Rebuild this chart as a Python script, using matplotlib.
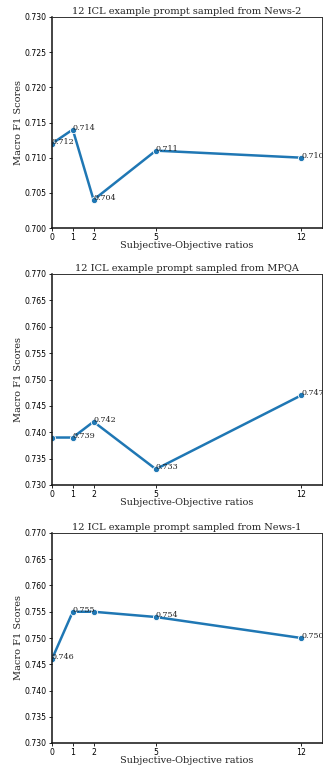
import numpy as np
from matplotlib import pyplot as plt

ratios = [0, 1, 2, 5, 12]
xtick_labels = ['0', '1', '2', '5', '12']

news2 = [0.712, 0.714, 0.704, 0.711, 0.710]
mpqa = [0.739, 0.739, 0.742, 0.733, 0.747]
news1 = [0.746, 0.755, 0.755, 0.754, 0.750]

# which points carry a value label (duplicates are labelled once)
news2_lab = [True, True, True, True, True]
mpqa_lab = [False, True, True, True, True]
news1_lab = [True, True, False, True, True]

titles = ['12 ICL example prompt sampled from News-2',
          '12 ICL example prompt sampled from MPQA',
          '12 ICL example prompt sampled from News-1']
ylims = [(0.700, 0.730), (0.730, 0.770), (0.730, 0.770)]
series = [news2, mpqa, news1]
labflags = [news2_lab, mpqa_lab, news1_lab]

W, H = 323, 766
fig = plt.figure(figsize=(W / 100, H / 100), dpi=100)

# axes boxes in pixels: left, top, right, bottom
boxes = [(52, 17, 322, 228), (52, 274, 322, 485), (52, 533, 322, 743)]

for box, vals, flags, title, yl in zip(boxes, series, labflags, titles, ylims):
    l, t, r, b = box
    ax = fig.add_axes([l / W, 1 - b / H, (r - l) / W, (b - t) / H])
    ax.plot(ratios, vals, '-o', color='#1f77b4', linewidth=1.8,
            markersize=4.5, markeredgecolor='white', markeredgewidth=0.6)
    for x, y, f in zip(ratios, vals, flags):
        if f:
            ax.text(x, y, '%.3f' % y, fontsize=5.8, family='DejaVu Serif',
                    color='#222222')
    ax.set_xlim(0, 13)
    ax.set_ylim(*yl)
    ax.set_xticks(ratios)
    ax.set_xticklabels(xtick_labels)
    ax.set_yticks(np.arange(yl[0], yl[1] + 0.0001, 0.005))
    ax.yaxis.set_major_formatter(plt.FormatStrFormatter('%.3f'))
    ax.tick_params(labelsize=5.6, length=2.5, width=0.6, pad=1.2)
    ax.set_title(title, fontsize=7, family='DejaVu Serif', pad=2,
                 color='#222222')
    ax.set_xlabel('Subjective-Objective ratios', fontsize=7,
                  family='DejaVu Serif', labelpad=-1, color='#222222')
    ax.set_ylabel('Macro F1 Scores', fontsize=7, family='DejaVu Serif',
                  labelpad=1, color='#222222')
    for s in ['top', 'right']:
        ax.spines[s].set_color('#333333')
        ax.spines[s].set_linewidth(0.7)
    for s in ['left', 'bottom']:
        ax.spines[s].set_color('#111111')
        ax.spines[s].set_linewidth(1.1)

plt.savefig('out.png', dpi=100)
